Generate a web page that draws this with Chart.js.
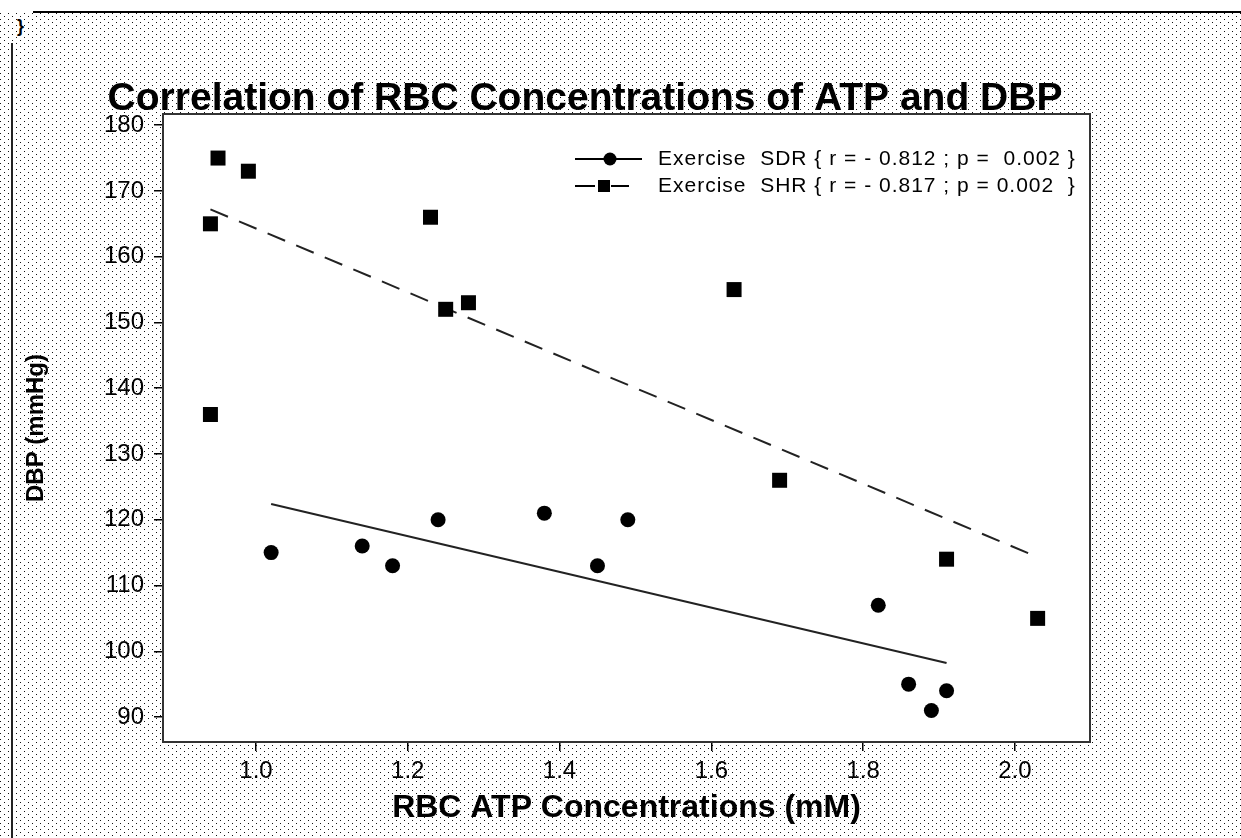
<!DOCTYPE html>
<html>
<head>
<meta charset="utf-8">
<title>Correlation of RBC Concentrations of ATP and DBP</title>
<script src="https://cdn.jsdelivr.net/npm/chart.js@4.4.1/dist/chart.umd.min.js"></script>
<style>
  html, body { margin: 0; padding: 0; background: #fff; }
  #page { position: relative; width: 1241px; height: 838px; overflow: hidden; background: #fff; }
  #dots {
    position: absolute; left: 0; top: 13px; right: 0; bottom: 0;
    background-image: url("data:image/svg+xml,%3Csvg xmlns='http://www.w3.org/2000/svg' width='8' height='6'%3E%3Crect x='0' y='0' width='1' height='1' fill='%23111'/%3E%3Crect x='4' y='3' width='1' height='1' fill='%23111'/%3E%3C/svg%3E");
  }
  #topline { position: absolute; left: 33px; top: 11px; width: 1208px; height: 2px; background: #000; }
  #leftline { position: absolute; left: 11px; top: 43px; width: 2px; height: 795px; background: #222; }
  #brace { position: absolute; left: 17px; top: 16px; font: bold 18px "Liberation Sans", Arial, sans-serif; color: #000; }
  #myChart { position: absolute; left: 0; top: 0; }
</style>
</head>
<body>
<div id="page">
  <div id="dots"></div>
  <div id="topline"></div>
  <div id="leftline"></div>
  <div id="brace">}</div>
  <canvas id="myChart" width="1241" height="838"></canvas>
</div>
<script>
// values
const sdrX = [1.02, 1.14, 1.18, 1.24, 1.38, 1.45, 1.49, 1.82, 1.86, 1.89, 1.91];
const sdrY = [115, 116, 113, 120, 121, 113, 120, 107, 95, 91, 94];
const shrX = [0.94, 0.95, 0.99, 0.94, 1.23, 1.25, 1.28, 1.63, 1.69, 1.91, 2.03];
const shrY = [165, 175, 173, 136, 166, 152, 153, 155, 126, 114, 105];
// regression lines (end points)
const sdrFitX = [1.02, 1.91];
const sdrFitY = [122.4, 98.2];
const shrFitX = [0.94, 2.02];
const shrFitY = [167.2, 114.8];

const xTicks = [1.0, 1.2, 1.4, 1.6, 1.8, 2.0];
const yTicks = [90, 100, 110, 120, 130, 140, 150, 160, 170, 180];

const chartTitle = 'Correlation of RBC Concentrations of ATP and DBP';
const xTitle = 'RBC ATP Concentrations (mM)';
const yTitle = 'DBP (mmHg)';
const legendLabels = [
    'Exercise  SDR { r = - 0.812 ; p =  0.002 }',
    'Exercise  SHR { r = - 0.817 ; p = 0.002  }'
];

const FONT = '"Liberation Sans", Arial, sans-serif';

const pts = (xs, ys) => xs.map((x, i) => ({x: x, y: ys[i]}));

// white plot area + frame
const framePlugin = {
    id: 'frame',
    beforeDraw(chart) {
        const a = chart.chartArea, ctx = chart.ctx;
        ctx.save();
        ctx.fillStyle = '#fff';
        ctx.fillRect(a.left, a.top, a.right - a.left, a.bottom - a.top);
        ctx.restore();
    },
    afterDraw(chart) {
        const a = chart.chartArea, ctx = chart.ctx;
        ctx.save();
        ctx.strokeStyle = '#333';
        ctx.lineWidth = 2;
        ctx.strokeRect(a.left, a.top, a.right - a.left, a.bottom - a.top);
        ctx.restore();
    }
};

// main title, drawn above the plot
const titlePlugin = {
    id: 'bigTitle',
    afterDraw(chart) {
        const ctx = chart.ctx;
        ctx.save();
        ctx.font = 'bold 39px ' + FONT;
        ctx.fillStyle = '#000';
        ctx.textAlign = 'center';
        ctx.textBaseline = 'middle';
        ctx.fillText(chartTitle, 585, 99);
        ctx.restore();
    }
};

// legend: line + marker sample, then text
const legendPlugin = {
    id: 'lineLegend',
    afterDraw(chart) {
        const ctx = chart.ctx, a = chart.chartArea;
        const x0 = a.left + 412;
        const rows = [a.top + 45, a.top + 72];
        ctx.save();
        ctx.strokeStyle = '#000';
        ctx.fillStyle = '#000';
        ctx.lineWidth = 2;
        // row 1: solid line, circle
        ctx.beginPath();
        ctx.moveTo(x0, rows[0]); ctx.lineTo(x0 + 67, rows[0]);
        ctx.stroke();
        ctx.beginPath();
        ctx.arc(x0 + 35, rows[0], 6.5, 0, Math.PI * 2);
        ctx.fill();
        // row 2: two dashes, square
        ctx.beginPath();
        ctx.moveTo(x0, rows[1]); ctx.lineTo(x0 + 20, rows[1]);
        ctx.moveTo(x0 + 36, rows[1]); ctx.lineTo(x0 + 54, rows[1]);
        ctx.stroke();
        ctx.fillRect(x0 + 23, rows[1] - 6, 12, 12);

        ctx.font = '21px ' + FONT;
        ctx.letterSpacing = '1px';
        ctx.textAlign = 'left';
        ctx.textBaseline = 'middle';
        legendLabels.forEach((t, i) => ctx.fillText(t, x0 + 83, rows[i]));
        ctx.restore();
    }
};

const data = {
    datasets: [
        {
            label: legendLabels[0],
            data: pts(sdrX, sdrY),
            pointStyle: 'circle',
            pointRadius: 7.5,
            pointBorderWidth: 0,
            backgroundColor: '#000',
            borderColor: '#000'
        },
        {
            label: legendLabels[1],
            data: pts(shrX, shrY),
            pointStyle: 'rect',
            pointRadius: 10.6,
            pointBorderWidth: 0,
            backgroundColor: '#000',
            borderColor: '#000'
        },
        {
            label: 'SDR fit',
            data: pts(sdrFitX, sdrFitY),
            showLine: true,
            pointRadius: 0,
            borderColor: '#222',
            borderWidth: 2
        },
        {
            label: 'SHR fit',
            data: pts(shrFitX, shrFitY),
            showLine: true,
            pointRadius: 0,
            borderColor: '#222',
            borderWidth: 2,
            borderDash: [19, 12]
        }
    ]
};

const config = {
    type: 'scatter',
    data: data,
    plugins: [framePlugin, titlePlugin, legendPlugin],
    options: {
        responsive: false,
        animation: false,
        events: [],
        layout: { padding: { left: 0, right: 151, top: 114, bottom: 0 } },
        plugins: { legend: { display: false }, title: { display: false }, tooltip: { enabled: false } },
        scales: {
            x: {
                type: 'linear',
                min: 0.8775,
                max: 2.099,
                afterBuildTicks: (s) => { s.ticks = xTicks.map(v => ({value: v})); },
                afterFit: (s) => { s.height = 96; },
                grid: { drawOnChartArea: false, drawTicks: true, tickLength: 9, color: '#000', lineWidth: 1.5 },
                border: { display: false },
                ticks: {
                    color: '#000',
                    padding: 6,
                    font: { family: FONT, size: 24 },
                    callback: (v) => Number(v).toFixed(1)
                },
                title: {
                    display: true,
                    text: xTitle,
                    color: '#000',
                    font: { family: FONT, size: 32, weight: 'bold' },
                    padding: { top: 0, bottom: 11 }
                }
            },
            y: {
                type: 'linear',
                min: 86.2,
                max: 181.7,
                afterBuildTicks: (s) => { s.ticks = yTicks.map(v => ({value: v})); },
                afterFit: (s) => { s.width = 163; },
                grid: { drawOnChartArea: false, drawTicks: true, tickLength: 9, color: '#000', lineWidth: 1.5 },
                border: { display: false },
                ticks: {
                    color: '#000',
                    padding: 10,
                    font: { family: FONT, size: 24 }
                },
                title: {
                    display: true,
                    text: yTitle,
                    color: '#000',
                    font: { family: FONT, size: 24, weight: 'bold' },
                    padding: { top: 22, bottom: 0 }
                }
            }
        }
    }
};

const myChart = new Chart(document.getElementById('myChart'), config);
</script>
</body>
</html>
